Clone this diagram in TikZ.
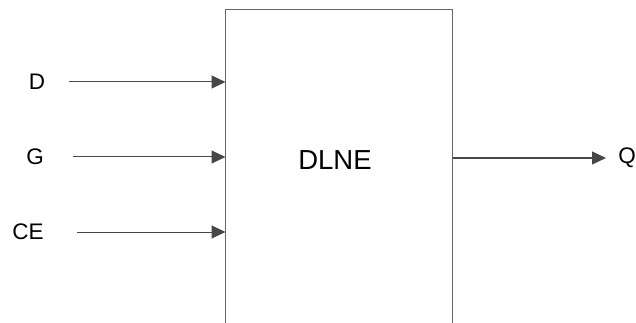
\documentclass[tikz,border=0pt]{standalone}
\usepackage{fontspec}
\setmainfont{Liberation Sans}
\usetikzlibrary{arrows.meta}
\begin{document}
\begin{tikzpicture}[x=1pt,y=-1pt,
  lbl/.style={font=\fontsize{22.5}{22.5}\selectfont, text=black, inner sep=0pt},
  boxline/.style={draw=black!60, line width=1.3pt},
  sig/.style={draw=black!72, line width=1pt, -{Triangle[length=14pt,width=13pt]}}]
\useasboundingbox (0,0) rectangle (636,323);
% block (open at the bottom, it runs off the picture)
\coordinate (bl) at (225.5,323);
\coordinate (tl) at (225.5,9.5);
\coordinate (tr) at (452.5,9.5);
\coordinate (br) at (452.5,323);
\draw[boxline] (bl) -- (tl) -- (tr) -- (br);
\node[lbl, font=\fontsize{27.5}{27.5}\selectfont] (dlne) at (335,160) {DLNE};
% inputs
\node[lbl] (d) at (37,82) {D};
\node[lbl] (g) at (35,157) {G};
\node[lbl] (ce) at (28,232) {CE};
\coordinate (ds) at (69,82);
\coordinate (gs) at (73,157);
\coordinate (cs) at (77,232);
\coordinate (di) at (225.5,82);
\coordinate (gi) at (225.5,157);
\coordinate (ci) at (225.5,232);
\draw[sig] (ds) -- (di);
\draw[sig] (gs) -- (gi);
\draw[sig] (cs) -- (ci);
% output
\coordinate (qo) at (452.5,158);
\node[lbl] (q) at (627,158) {Q};
\coordinate (qe) at (606,158);
\draw[sig] (qo) -- (qe);
\end{tikzpicture}
\end{document}
